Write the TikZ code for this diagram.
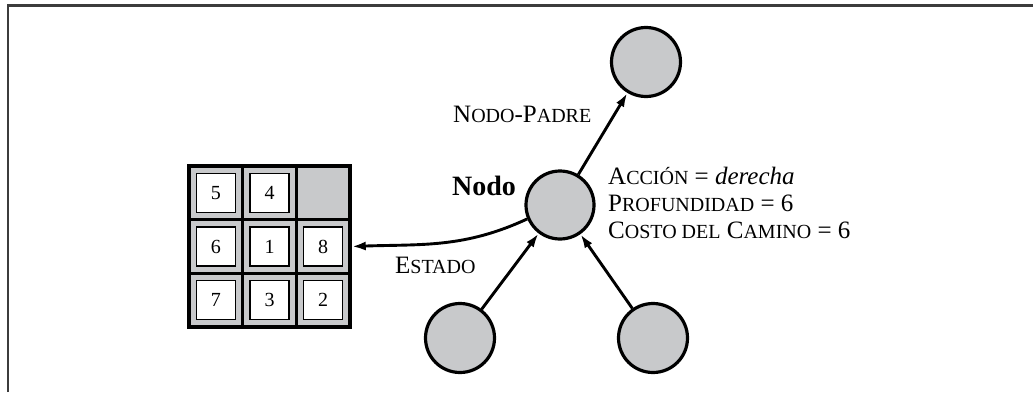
\documentclass[tikz,border=0pt]{standalone}
\usepackage{fontspec}
\setmainfont{Liberation Serif}
\usetikzlibrary{arrows.meta}
\definecolor{fillgray}{RGB}{200,201,203}
\definecolor{framegray}{RGB}{60,60,60}
\newcommand\smc[1]{{\fontsize{20}{20}\selectfont #1}}
\tikzset{
  circ/.style={circle, draw=black, fill=fillgray, line width=3.2pt, minimum size=69pt, inner sep=0pt},
  tile/.style={draw=black, fill=white, line width=1.6pt, minimum size=39pt, inner sep=0pt, font=\fontsize{20}{20}\selectfont},
  board/.style={draw=black, fill=fillgray, line width=3.5pt, minimum size=161pt, inner sep=0pt},
  grid/.style={line width=3.5pt, black},
  lab/.style={inner sep=0pt, font=\fontsize{25}{27}\selectfont},
  conn/.style={line width=2.9pt, -{Latex[length=14pt,width=9pt]}},
  frame/.style={line width=2.2pt, framegray}
}
\begin{document}
\begin{tikzpicture}[x=1pt,y=1pt]
\useasboundingbox (0,0) rectangle (1033,392);
% frame
\coordinate (fa) at (8,0);
\coordinate (fb) at (8,386.5);
\coordinate (fc) at (1033,386.5);
\draw[frame] (fa) -- (fb) -- (fc);
% board
\node[board] (board) at (269.5,145.5) {};
\draw[grid] (242.667,65) -- (242.667,226);
\draw[grid] (296.333,65) -- (296.333,226);
\draw[grid] (189,118.667) -- (350,118.667);
\draw[grid] (189,172.333) -- (350,172.333);
\node[tile] (t5) at (215.83,199.17) {5};
\node[tile] (t4) at (269.5,199.17) {4};
\node[tile] (t6) at (215.83,145.5) {6};
\node[tile] (t1) at (269.5,145.5) {1};
\node[tile] (t8) at (323.17,145.5) {8};
\node[tile] (t7) at (215.83,91.83) {7};
\node[tile] (t3) at (269.5,91.83) {3};
\node[tile] (t2) at (323.17,91.83) {2};
% tree nodes
\node[circ] (top) at (646,330) {};
\node[circ, minimum size=68pt] (mid) at (560,187) {};
\node[circ] (bl) at (460,54) {};
\node[circ] (br) at (653,54) {};
% connectors
\draw[conn] (mid) -- (top);
\draw[conn] (bl) -- (mid);
\draw[conn] (br) -- (mid);
\draw[conn] (mid.203) to[out=205,in=2] (board.east);
% labels
\node[lab, anchor=base west, font=\fontsize{28}{28}\selectfont\bfseries] (nodo) at (452,197) {Nodo};
\node[lab, anchor=base west] (padre) at (453,270) {N\smc{ODO}-P\smc{ADRE}};
\node[lab, anchor=base west] (estado) at (395,119) {E\smc{STADO}};
\node[lab, anchor=base west] (info1) at (608,208) {A\smc{CCIÓN} = \textit{derecha}};
\node[lab, anchor=base west] (info2) at (608,181) {P\smc{ROFUNDIDAD} = 6};
\node[lab, anchor=base west] (info3) at (608,154) {C\smc{OSTO DEL} C\smc{AMINO} = 6};
\end{tikzpicture}
\end{document}
